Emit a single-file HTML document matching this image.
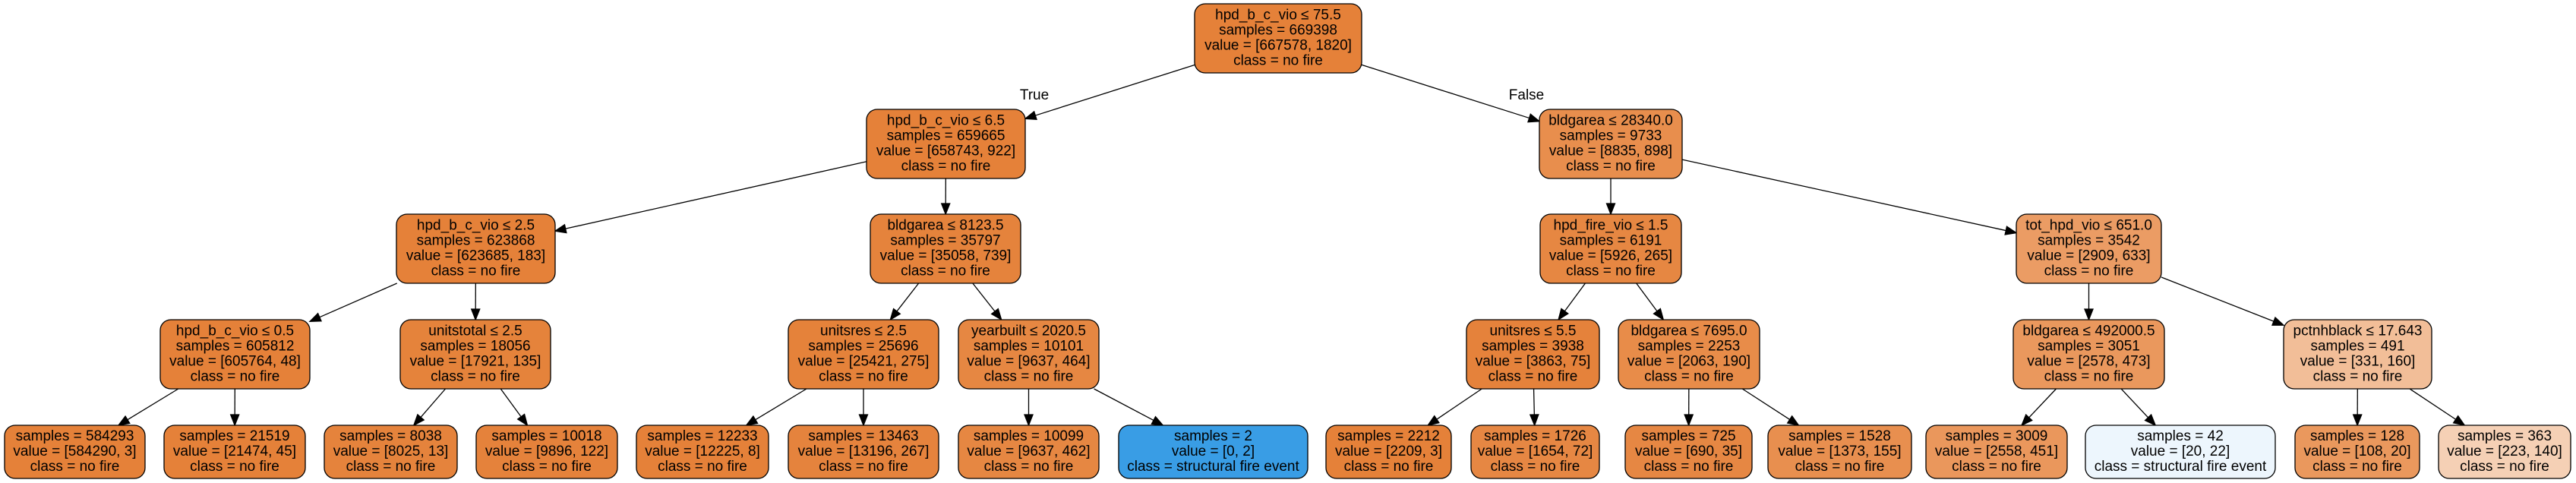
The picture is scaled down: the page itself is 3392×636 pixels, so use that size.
<!DOCTYPE html>
<html><head><meta charset="utf-8">
<style>
html,body{margin:0;padding:0;background:#fff;}
svg{display:block;}
text{font-family:"Liberation Sans",Arial,sans-serif;font-size:19px;fill:#000;}
</style></head>
<body>
<svg id="s" width="3392" height="636" viewBox="0 0 3392 636" xmlns="http://www.w3.org/2000/svg">
<rect width="3392" height="636" fill="#fff"/>
<g id="edges" stroke="#000" stroke-width="1.3" fill="#000"></g>
<g id="nodes"></g>
<text x="1362" y="131" text-anchor="middle">True</text>
<text x="2010" y="131" text-anchor="middle">False</text>
</svg>
<script>
var R=[[5,96],[144,235],[282,373],[421,512],[560,630]];
var N={
root:[1573,1793,0,'#e58139',['hpd_b_c_vio ≤ 75.5','samples = 669398','value = [667578, 1820]','class = no fire']],
A:[1141,1350,1,'#e58139',['hpd_b_c_vio ≤ 6.5','samples = 659665','value = [658743, 922]','class = no fire']],
B:[2027,2215,1,'#e88e4d',['bldgarea ≤ 28340.0','samples = 9733','value = [8835, 898]','class = no fire']],
C:[522,731,2,'#e58139',['hpd_b_c_vio ≤ 2.5','samples = 623868','value = [623685, 183]','class = no fire']],
D:[1146,1344,2,'#e5833c',['bldgarea ≤ 8123.5','samples = 35797','value = [35058, 739]','class = no fire']],
E:[2028,2214,2,'#e68742',['hpd_fire_vio ≤ 1.5','samples = 6191','value = [5926, 265]','class = no fire']],
F:[2655,2846,2,'#eb9c64',['tot_hpd_vio ≤ 651.0','samples = 3542','value = [2909, 633]','class = no fire']],
G:[211,408,3,'#e58139',['hpd_b_c_vio ≤ 0.5','samples = 605812','value = [605764, 48]','class = no fire']],
H:[527,725,3,'#e5833b',['unitstotal ≤ 2.5','samples = 18056','value = [17921, 135]','class = no fire']],
I:[1038,1236,3,'#e5823a',['unitsres ≤ 2.5','samples = 25696','value = [25421, 275]','class = no fire']],
J:[1262,1447,3,'#e68742',['yearbuilt ≤ 2020.5','samples = 10101','value = [9637, 464]','class = no fire']],
K:[1931,2106,3,'#e5823b',['unitsres ≤ 5.5','samples = 3938','value = [3863, 75]','class = no fire']],
L:[2131,2317,3,'#e88c49',['bldgarea ≤ 7695.0','samples = 2253','value = [2063, 190]','class = no fire']],
M:[2651,2850,3,'#ea985d',['bldgarea ≤ 492000.5','samples = 3051','value = [2578, 473]','class = no fire']],
Nn:[3007,3202,3,'#f2be98',['pctnhblack ≤ 17.643','samples = 491','value = [331, 160]','class = no fire']],
l1:[6,191,4,'#e58139',['samples = 584293','value = [584290, 3]','class = no fire']],
l2:[216,402,4,'#e58139',['samples = 21519','value = [21474, 45]','class = no fire']],
l3:[427,602,4,'#e5833c',['samples = 8038','value = [8025, 13]','class = no fire']],
l4:[627,813,4,'#e5823b',['samples = 10018','value = [9896, 122]','class = no fire']],
l5:[838,1012,4,'#e58139',['samples = 12233','value = [12225, 8]','class = no fire']],
l6:[1038,1236,4,'#e5833d',['samples = 13463','value = [13196, 267]','class = no fire']],
l7:[1262,1447,4,'#e68742',['samples = 10099','value = [9637, 462]','class = no fire']],
l8:[1473,1722,4,'#399de5',['samples = 2','value = [0, 2]','class = structural fire event']],
l9:[1746,1911,4,'#e58139',['samples = 2212','value = [2209, 3]','class = no fire']],
l10:[1937,2106,4,'#e68743',['samples = 1726','value = [1654, 72]','class = no fire']],
l11:[2140,2307,4,'#e68743',['samples = 725','value = [690, 35]','class = no fire']],
l12:[2328,2517,4,'#e88f4f',['samples = 1528','value = [1373, 155]','class = no fire']],
l13:[2536,2722,4,'#ea975c',['samples = 3009','value = [2558, 451]','class = no fire']],
l14:[2746,2996,4,'#edf6fd',['samples = 42','value = [20, 22]','class = structural fire event']],
l15:[3022,3186,4,'#ea985d',['samples = 128','value = [108, 20]','class = no fire']],
l16:[3211,3385,4,'#f5d0b5',['samples = 363','value = [223, 140]','class = no fire']]
};
var E=[['root','A'],['root','B'],['A','C'],['A','D'],['B','E'],['B','F'],
['C','G'],['C','H'],['D','I'],['D','J'],['E','K'],['E','L'],['F','M'],['F','Nn'],
['G','l1'],['G','l2'],['H','l3'],['H','l4'],['I','l5'],['I','l6'],['J','l7'],['J','l8'],
['K','l9'],['K','l10'],['L','l11'],['L','l12'],['M','l13'],['M','l14'],['Nn','l15'],['Nn','l16']];
var ns='http://www.w3.org/2000/svg';
function el(t,a,p){var e=document.createElementNS(ns,t);for(var k in a)e.setAttribute(k,a[k]);p.appendChild(e);return e;}
var G=document.getElementById('nodes'),EG=document.getElementById('edges');
function box(k){var n=N[k];return {x1:n[0],x2:n[1],y1:R[n[2]][0],y2:R[n[2]][1],cx:(n[0]+n[1])/2,cy:(R[n[2]][0]+R[n[2]][1])/2};}
function clip(b,dx,dy){ // from center along (dx,dy) to boundary
 var tx=dx?((dx>0?b.x2:b.x1)-b.cx)/dx:1e9, ty=dy?((dy>0?b.y2:b.y1)-b.cy)/dy:1e9;
 var t=Math.min(Math.abs(tx),Math.abs(ty));return [b.cx+dx*t,b.cy+dy*t];}
E.forEach(function(e){
 var a=box(e[0]),b=box(e[1]);var dx=b.cx-a.cx,dy=b.cy-a.cy;
 var p=clip(a,dx,dy),q=clip(b,-dx,-dy);
 var L=Math.hypot(q[0]-p[0],q[1]-p[1]),ux=(q[0]-p[0])/L,uy=(q[1]-p[1])/L;
 var al=14,aw=5.5;var bx=q[0]-ux*al,by=q[1]-uy*al;
 el('line',{x1:p[0],y1:p[1],x2:bx,y2:by},EG);
 el('polygon',{points:q[0]+','+q[1]+' '+(bx-uy*aw)+','+(by+ux*aw)+' '+(bx+uy*aw)+','+(by-ux*aw)},EG);
});
for(var k in N){var n=N[k],b=box(k);
 el('rect',{x:b.x1,y:b.y1,width:b.x2-b.x1,height:b.y2-b.y1,rx:14,ry:14,fill:n[3],stroke:'#000','stroke-width':1.3},G);
 var lines=n[4],h=lines.length*20,y0=b.cy-h/2+15;
 lines.forEach(function(s,i){var t=el('text',{x:b.cx,y:y0+i*20,'text-anchor':'middle'},G);t.textContent=s;});
}
</script>
</body></html>
